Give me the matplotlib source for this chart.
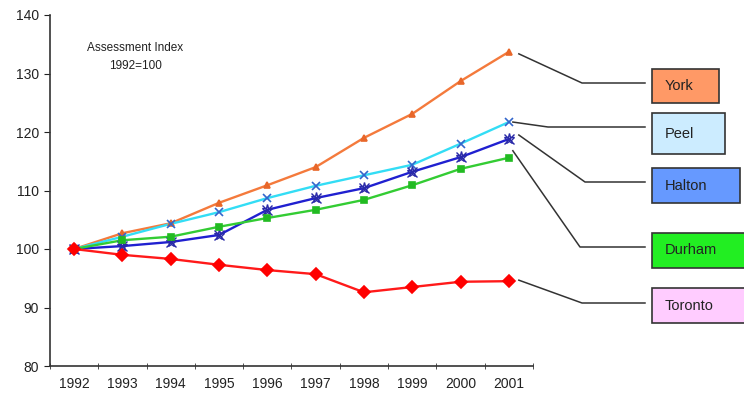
import matplotlib.pyplot as plt
from matplotlib.patches import Rectangle
from matplotlib.lines import Line2D

plt.rcParams['font.family'] = ['Liberation Sans', 'DejaVu Sans']

years = ["1992", "1993", "1994", "1995", "1996", "1997", "1998", "1999", "2000", "2001"]

york = [100, 102.7, 104.4, 107.9, 110.9, 114.0, 119.0, 123.1, 128.7, 133.7]
peel = [100, 102.1, 104.3, 106.3, 108.7, 110.8, 112.6, 114.4, 118.0, 121.7]
halton = [100, 100.5, 101.2, 102.4, 106.7, 108.7, 110.4, 113.2, 115.7, 118.8]
durham = [100, 101.5, 102.1, 103.8, 105.3, 106.7, 108.4, 110.9, 113.7, 115.6]
toronto = [100, 99.0, 98.3, 97.3, 96.4, 95.7, 92.6, 93.5, 94.4, 94.5]

names = ["York", "Peel", "Halton", "Durham", "Toronto"]
series = [york, peel, halton, durham, toronto]

# line colour, marker, marker colour, marker size
styles = {
    "York":    ("#f47a3c", "^", "#e8672a", 5),
    "Peel":    ("#33ddf5", "x", "#3366cc", 6),
    "Halton":  ("#2020d0", "x", "#2a2aa8", 8),
    "Durham":  ("#33cc33", "s", "#22bb22", 5),
    "Toronto": ("#ff1a1a", "D", "#ff0000", 6.5),
}

# label boxes on the right: face colour, box (x0, y0, x1, y1) in pixels from top-left,
# elbow of the leader line (pixels from top-left), start offset from the point
boxes = {
    "York":    ("#ff9966", (652, 69, 719, 103), (582, 83), (10, -2)),
    "Peel":    ("#ccecff", (652, 113, 725, 154), (548, 127), (4, 0)),
    "Halton":  ("#6699ff", (652, 168, 740, 203), (585, 182), (10, 4)),
    "Durham":  ("#22ee22", (652, 233, 746, 268), (580, 247), (4, 7)),
    "Toronto": ("#ffccff", (652, 288, 746, 323), (582, 303), (10, 1)),
}

W, H = 744, 396
fig = plt.figure(figsize=(W / 100, H / 100), dpi=100)
ax = fig.add_axes([50 / W, 1 - 366 / H, (533 - 50) / W, (366 - 15) / H])

x = list(range(len(years)))
for name, vals in zip(names, series):
    lc, mk, mc, ms = styles[name]
    ax.plot(x, vals, color=lc, lw=1.7, zorder=2)
    if name == "Halton":
        ax.plot(x, vals, ls="none", marker="*", ms=ms, mfc="none", mec=mc, mew=1, zorder=3)
        ax.plot(x, vals, ls="none", marker="x", ms=ms - 1, mec=mc, mew=1, zorder=3)
    else:
        ax.plot(x, vals, ls="none", marker=mk, ms=ms, mfc=mc, mec=mc, mew=1.2, zorder=3)

ax.set_xlim(-0.5, len(years) - 0.5)
ax.set_ylim(80, 140)
ax.set_yticks(range(80, 141, 10))
ax.set_xticks(x)
ax.set_xticklabels(years)
ax.set_xticks([i - 0.5 for i in range(len(years) + 1)], minor=True)
ax.tick_params(axis="x", which="major", length=0, labelsize=10, pad=8, colors="#222222")
ax.tick_params(axis="x", which="minor", length=4, direction="inout", color="#333333")
ax.tick_params(axis="y", length=4, direction="out", labelsize=10, pad=4, colors="#222222")
for s in ["top", "right"]:
    ax.spines[s].set_visible(False)
for s in ["left", "bottom"]:
    ax.spines[s].set_color("#333333")
    ax.spines[s].set_linewidth(1.2)

ax.text(135 / W, 1 - 57 / H, "Assessment Index\n1992=100", transform=fig.transFigure,
        ha="center", va="center", fontsize=8.5, color="#222222", linespacing=1.6)

# label boxes with leader lines from the last point
fig.canvas.draw()
for name, vals in zip(names, series):
    fc, (bx0, by0, bx1, by1), (ex, ey), (dx, dy) = boxes[name]
    px, py = ax.transData.transform((x[-1], vals[-1]))
    sx, sy = px + dx, py + dy
    xs = [sx / W, ex / W, 645 / W]
    ys = [sy / H, 1 - ey / H, 1 - ey / H]
    fig.add_artist(Line2D(xs, ys, color="#333333", lw=1.1, transform=fig.transFigure))
    fig.add_artist(Rectangle((bx0 / W, 1 - by1 / H), (bx1 - bx0) / W, (by1 - by0) / H,
                             transform=fig.transFigure, facecolor=fc,
                             edgecolor="#333333", lw=1.2))
    fig.text((bx0 + 13) / W, 1 - (by0 + by1) / 2 / H, name, ha="left", va="center",
             fontsize=10.5, color="#222222")

fig.savefig("out.png", dpi=100, facecolor="white")
